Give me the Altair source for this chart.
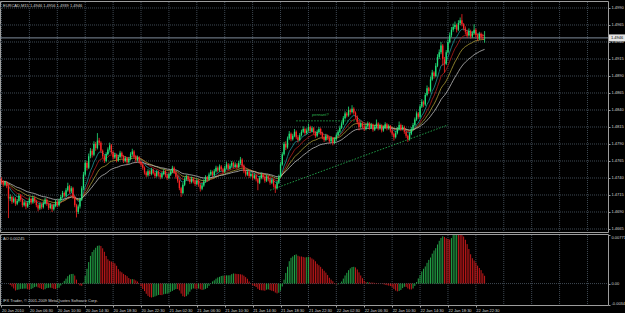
import altair as alt
import pandas as pd

# ---------------- data (EURCAD M15) ----------------
open_ = [
1.4738, 1.4735, 1.4730, 1.4733, 1.4728, 1.4710, 1.4712, 1.4705, 1.4710, 1.4702,
1.4706, 1.4714, 1.4708, 1.4700, 1.4704, 1.4698, 1.4703, 1.4709, 1.4704, 1.4711,
1.4706, 1.4700, 1.4695, 1.4701, 1.4697, 1.4703, 1.4708, 1.4702, 1.4696, 1.4700,
1.4694, 1.4699, 1.4705, 1.4700, 1.4707, 1.4712, 1.4718, 1.4714, 1.4722, 1.4728,
1.4720, 1.4725, 1.4712, 1.4700, 1.4690, 1.4698, 1.4708, 1.4725, 1.4745, 1.4762,
1.4755, 1.4772, 1.4780, 1.4774, 1.4790, 1.4784, 1.4795, 1.4792, 1.4780, 1.4772,
1.4765, 1.4775, 1.4782, 1.4788, 1.4778, 1.4770, 1.4774, 1.4766, 1.4771, 1.4777,
1.4772, 1.4765, 1.4769, 1.4763, 1.4768, 1.4775, 1.4779, 1.4772, 1.4766, 1.4770,
1.4764, 1.4760, 1.4755, 1.4748, 1.4744, 1.4750, 1.4746, 1.4752, 1.4747, 1.4743,
1.4749, 1.4745, 1.4741, 1.4746, 1.4750, 1.4744, 1.4740, 1.4745, 1.4749, 1.4755,
1.4748, 1.4742, 1.4736, 1.4725, 1.4718, 1.4730, 1.4738, 1.4742, 1.4738, 1.4734,
1.4739, 1.4735, 1.4731, 1.4736, 1.4730, 1.4724, 1.4729, 1.4735, 1.4741, 1.4738,
1.4745, 1.4749, 1.4744, 1.4750, 1.4755, 1.4751, 1.4757, 1.4753, 1.4749, 1.4755,
1.4760, 1.4754, 1.4758, 1.4762, 1.4757, 1.4760, 1.4756, 1.4762, 1.4767, 1.4758,
1.4750, 1.4745, 1.4749, 1.4743, 1.4746, 1.4740, 1.4744, 1.4738, 1.4733, 1.4740,
1.4745, 1.4741, 1.4736, 1.4742, 1.4738, 1.4733, 1.4737, 1.4729, 1.4725, 1.4733,
1.4742, 1.4760, 1.4775, 1.4790, 1.4785, 1.4798, 1.4805, 1.4797, 1.4802, 1.4808,
1.4800, 1.4796, 1.4803, 1.4808, 1.4812, 1.4806, 1.4810, 1.4815, 1.4809, 1.4813,
1.4807, 1.4802, 1.4808, 1.4812, 1.4806, 1.4800, 1.4796, 1.4802, 1.4799, 1.4794,
1.4798, 1.4792, 1.4797, 1.4803, 1.4808, 1.4814, 1.4820, 1.4828, 1.4835, 1.4832,
1.4840, 1.4837, 1.4842, 1.4836, 1.4830, 1.4822, 1.4815, 1.4820, 1.4816, 1.4812,
1.4816, 1.4820, 1.4814, 1.4818, 1.4811, 1.4815, 1.4820, 1.4813, 1.4817, 1.4810,
1.4814, 1.4819, 1.4813, 1.4816, 1.4810, 1.4805, 1.4800, 1.4806, 1.4812, 1.4818,
1.4812, 1.4815, 1.4808, 1.4802, 1.4797, 1.4805, 1.4812, 1.4818, 1.4826, 1.4835,
1.4830, 1.4845, 1.4852, 1.4848, 1.4862, 1.4872, 1.4868, 1.4885, 1.4895, 1.4890,
1.4905, 1.4918, 1.4925, 1.4935, 1.4915, 1.4908, 1.4925, 1.4940, 1.4950, 1.4958,
1.4962, 1.4965, 1.4958, 1.4968, 1.4972, 1.4966, 1.4960, 1.4955, 1.4950, 1.4956,
1.4948, 1.4953, 1.4958, 1.4950, 1.4945, 1.4952, 1.4947, 1.4946]

high = [
1.4741, 1.4737, 1.4736, 1.4735, 1.4731, 1.4716, 1.4714, 1.4713, 1.4712, 1.4709,
1.4717, 1.4716, 1.4710, 1.4707, 1.4706, 1.4706, 1.4712, 1.4711, 1.4714, 1.4713,
1.4708, 1.4702, 1.4704, 1.4703, 1.4706, 1.4711, 1.4710, 1.4704, 1.4703, 1.4702,
1.4702, 1.4708, 1.4707, 1.4710, 1.4715, 1.4721, 1.4720, 1.4725, 1.4733, 1.4730,
1.4728, 1.4727, 1.4714, 1.4702, 1.4701, 1.4711, 1.4728, 1.4749, 1.4766, 1.4765,
1.4776, 1.4784, 1.4783, 1.4794, 1.4793, 1.4806, 1.4799, 1.4794, 1.4782, 1.4774,
1.4778, 1.4785, 1.4792, 1.4790, 1.4780, 1.4777, 1.4776, 1.4774, 1.4780, 1.4779,
1.4774, 1.4772, 1.4771, 1.4771, 1.4778, 1.4783, 1.4781, 1.4774, 1.4773, 1.4772,
1.4766, 1.4762, 1.4757, 1.4750, 1.4753, 1.4752, 1.4755, 1.4754, 1.4749, 1.4752,
1.4751, 1.4747, 1.4749, 1.4753, 1.4752, 1.4746, 1.4748, 1.4752, 1.4758, 1.4757,
1.4750, 1.4744, 1.4738, 1.4727, 1.4733, 1.4741, 1.4745, 1.4744, 1.4740, 1.4742,
1.4741, 1.4737, 1.4739, 1.4738, 1.4732, 1.4732, 1.4738, 1.4744, 1.4743, 1.4748,
1.4752, 1.4751, 1.4753, 1.4758, 1.4757, 1.4760, 1.4759, 1.4755, 1.4758, 1.4764,
1.4762, 1.4761, 1.4765, 1.4764, 1.4763, 1.4762, 1.4765, 1.4771, 1.4769, 1.4760,
1.4752, 1.4752, 1.4751, 1.4749, 1.4748, 1.4747, 1.4746, 1.4740, 1.4743, 1.4748,
1.4747, 1.4743, 1.4745, 1.4744, 1.4740, 1.4740, 1.4739, 1.4731, 1.4736, 1.4745,
1.4763, 1.4778, 1.4793, 1.4794, 1.4801, 1.4809, 1.4807, 1.4805, 1.4812, 1.4810,
1.4803, 1.4806, 1.4811, 1.4816, 1.4814, 1.4813, 1.4820, 1.4817, 1.4816, 1.4815,
1.4809, 1.4811, 1.4815, 1.4814, 1.4808, 1.4802, 1.4805, 1.4804, 1.4801, 1.4801,
1.4800, 1.4800, 1.4806, 1.4811, 1.4817, 1.4823, 1.4831, 1.4838, 1.4837, 1.4845,
1.4842, 1.4847, 1.4844, 1.4838, 1.4832, 1.4824, 1.4823, 1.4822, 1.4818, 1.4819,
1.4823, 1.4822, 1.4821, 1.4820, 1.4818, 1.4826, 1.4822, 1.4820, 1.4819, 1.4817,
1.4822, 1.4821, 1.4819, 1.4818, 1.4812, 1.4807, 1.4809, 1.4815, 1.4823, 1.4820,
1.4818, 1.4817, 1.4810, 1.4804, 1.4808, 1.4815, 1.4821, 1.4829, 1.4838, 1.4837,
1.4848, 1.4856, 1.4854, 1.4865, 1.4876, 1.4874, 1.4889, 1.4899, 1.4897, 1.4909,
1.4922, 1.4929, 1.4940, 1.4937, 1.4918, 1.4928, 1.4944, 1.4954, 1.4962, 1.4967,
1.4970, 1.4967, 1.4972, 1.4976, 1.4981, 1.4968, 1.4963, 1.4958, 1.4960, 1.4958,
1.4956, 1.4966, 1.4960, 1.4952, 1.4955, 1.4954, 1.4952, 1.4956]

low = [
1.4731, 1.4727, 1.4728, 1.4725, 1.4681, 1.4706, 1.4702, 1.4703, 1.4699, 1.4700,
1.4704, 1.4705, 1.4697, 1.4698, 1.4694, 1.4696, 1.4701, 1.4701, 1.4702, 1.4703,
1.4697, 1.4691, 1.4693, 1.4694, 1.4695, 1.4701, 1.4699, 1.4693, 1.4694, 1.4690,
1.4692, 1.4697, 1.4697, 1.4698, 1.4705, 1.4710, 1.4711, 1.4712, 1.4720, 1.4717,
1.4718, 1.4709, 1.4697, 1.4682, 1.4687, 1.4695, 1.4706, 1.4722, 1.4743, 1.4751,
1.4753, 1.4769, 1.4770, 1.4772, 1.4780, 1.4782, 1.4788, 1.4777, 1.4769, 1.4762,
1.4763, 1.4773, 1.4780, 1.4775, 1.4767, 1.4768, 1.4763, 1.4764, 1.4769, 1.4769,
1.4762, 1.4763, 1.4760, 1.4761, 1.4766, 1.4773, 1.4769, 1.4763, 1.4764, 1.4761,
1.4757, 1.4752, 1.4745, 1.4741, 1.4742, 1.4743, 1.4744, 1.4745, 1.4740, 1.4741,
1.4742, 1.4738, 1.4739, 1.4744, 1.4741, 1.4737, 1.4738, 1.4743, 1.4747, 1.4746,
1.4739, 1.4733, 1.4722, 1.4712, 1.4716, 1.4728, 1.4736, 1.4735, 1.4731, 1.4732,
1.4732, 1.4728, 1.4729, 1.4727, 1.4720, 1.4722, 1.4727, 1.4733, 1.4735, 1.4736,
1.4743, 1.4741, 1.4742, 1.4748, 1.4748, 1.4749, 1.4750, 1.4746, 1.4747, 1.4753,
1.4751, 1.4752, 1.4756, 1.4754, 1.4755, 1.4753, 1.4754, 1.4760, 1.4755, 1.4747,
1.4742, 1.4743, 1.4740, 1.4741, 1.4737, 1.4738, 1.4735, 1.4722, 1.4731, 1.4738,
1.4738, 1.4733, 1.4734, 1.4735, 1.4730, 1.4731, 1.4726, 1.4718, 1.4723, 1.4731,
1.4740, 1.4758, 1.4773, 1.4781, 1.4783, 1.4796, 1.4794, 1.4795, 1.4800, 1.4797,
1.4792, 1.4794, 1.4801, 1.4806, 1.4803, 1.4804, 1.4808, 1.4806, 1.4807, 1.4804,
1.4799, 1.4800, 1.4806, 1.4803, 1.4797, 1.4793, 1.4794, 1.4796, 1.4791, 1.4792,
1.4788, 1.4790, 1.4795, 1.4801, 1.4806, 1.4812, 1.4818, 1.4826, 1.4829, 1.4830,
1.4833, 1.4835, 1.4833, 1.4827, 1.4819, 1.4810, 1.4813, 1.4813, 1.4809, 1.4810,
1.4814, 1.4811, 1.4812, 1.4808, 1.4809, 1.4813, 1.4810, 1.4811, 1.4807, 1.4808,
1.4812, 1.4810, 1.4811, 1.4807, 1.4802, 1.4795, 1.4798, 1.4804, 1.4810, 1.4809,
1.4810, 1.4805, 1.4799, 1.4793, 1.4795, 1.4803, 1.4810, 1.4816, 1.4824, 1.4827,
1.4828, 1.4843, 1.4844, 1.4846, 1.4860, 1.4864, 1.4866, 1.4883, 1.4886, 1.4888,
1.4903, 1.4915, 1.4922, 1.4905, 1.4895, 1.4906, 1.4923, 1.4938, 1.4947, 1.4955,
1.4959, 1.4954, 1.4956, 1.4965, 1.4963, 1.4957, 1.4951, 1.4946, 1.4948, 1.4945,
1.4946, 1.4951, 1.4947, 1.4942, 1.4943, 1.4944, 1.4943, 1.4939]

close = [
1.4735, 1.4730, 1.4733, 1.4728, 1.4710, 1.4712, 1.4705, 1.4710, 1.4702, 1.4706,
1.4714, 1.4708, 1.4700, 1.4704, 1.4698, 1.4703, 1.4709, 1.4704, 1.4711, 1.4706,
1.4700, 1.4695, 1.4701, 1.4697, 1.4703, 1.4708, 1.4702, 1.4696, 1.4700, 1.4694,
1.4699, 1.4705, 1.4700, 1.4707, 1.4712, 1.4718, 1.4714, 1.4722, 1.4728, 1.4720,
1.4725, 1.4712, 1.4700, 1.4690, 1.4698, 1.4708, 1.4725, 1.4745, 1.4762, 1.4755,
1.4772, 1.4780, 1.4774, 1.4790, 1.4784, 1.4795, 1.4792, 1.4780, 1.4772, 1.4765,
1.4775, 1.4782, 1.4788, 1.4778, 1.4770, 1.4774, 1.4766, 1.4771, 1.4777, 1.4772,
1.4765, 1.4769, 1.4763, 1.4768, 1.4775, 1.4779, 1.4772, 1.4766, 1.4770, 1.4764,
1.4760, 1.4755, 1.4748, 1.4744, 1.4750, 1.4746, 1.4752, 1.4747, 1.4743, 1.4749,
1.4745, 1.4741, 1.4746, 1.4750, 1.4744, 1.4740, 1.4745, 1.4749, 1.4755, 1.4748,
1.4742, 1.4736, 1.4725, 1.4718, 1.4730, 1.4738, 1.4742, 1.4738, 1.4734, 1.4739,
1.4735, 1.4731, 1.4736, 1.4730, 1.4724, 1.4729, 1.4735, 1.4741, 1.4738, 1.4745,
1.4749, 1.4744, 1.4750, 1.4755, 1.4751, 1.4757, 1.4753, 1.4749, 1.4755, 1.4760,
1.4754, 1.4758, 1.4762, 1.4757, 1.4760, 1.4756, 1.4762, 1.4767, 1.4758, 1.4750,
1.4745, 1.4749, 1.4743, 1.4746, 1.4740, 1.4744, 1.4738, 1.4733, 1.4740, 1.4745,
1.4741, 1.4736, 1.4742, 1.4738, 1.4733, 1.4737, 1.4729, 1.4725, 1.4733, 1.4742,
1.4760, 1.4775, 1.4790, 1.4785, 1.4798, 1.4805, 1.4797, 1.4802, 1.4808, 1.4800,
1.4796, 1.4803, 1.4808, 1.4812, 1.4806, 1.4810, 1.4815, 1.4809, 1.4813, 1.4807,
1.4802, 1.4808, 1.4812, 1.4806, 1.4800, 1.4796, 1.4802, 1.4799, 1.4794, 1.4798,
1.4792, 1.4797, 1.4803, 1.4808, 1.4814, 1.4820, 1.4828, 1.4835, 1.4832, 1.4840,
1.4837, 1.4842, 1.4836, 1.4830, 1.4822, 1.4815, 1.4820, 1.4816, 1.4812, 1.4816,
1.4820, 1.4814, 1.4818, 1.4811, 1.4815, 1.4820, 1.4813, 1.4817, 1.4810, 1.4814,
1.4819, 1.4813, 1.4816, 1.4810, 1.4805, 1.4800, 1.4806, 1.4812, 1.4818, 1.4812,
1.4815, 1.4808, 1.4802, 1.4797, 1.4805, 1.4812, 1.4818, 1.4826, 1.4835, 1.4830,
1.4845, 1.4852, 1.4848, 1.4862, 1.4872, 1.4868, 1.4885, 1.4895, 1.4890, 1.4905,
1.4918, 1.4925, 1.4935, 1.4915, 1.4908, 1.4925, 1.4940, 1.4950, 1.4958, 1.4962,
1.4965, 1.4958, 1.4968, 1.4972, 1.4966, 1.4960, 1.4955, 1.4950, 1.4956, 1.4948,
1.4953, 1.4958, 1.4950, 1.4945, 1.4952, 1.4947, 1.4946, 1.4946]

time_labels = ["20 Jan 2010", "20 Jan 06:30", "20 Jan 10:30", "20 Jan 14:30",
               "20 Jan 18:30", "20 Jan 22:30", "21 Jan 02:30", "21 Jan 06:30",
               "21 Jan 10:30", "21 Jan 14:30", "21 Jan 18:30", "21 Jan 22:30",
               "22 Jan 02:30", "22 Jan 06:30", "22 Jan 10:30", "22 Jan 14:30",
               "22 Jan 18:30", "22 Jan 22:30"]
label_bars = [0, 16, 32, 48, 64, 80, 96, 112, 128, 144, 160, 176, 192, 208,
              224, 240, 256, 272]
grid_bars = label_bars + [288, 304, 320, 336]
price_ticks = [1.4665, 1.4690, 1.4715, 1.4740, 1.4765, 1.4790, 1.4815,
               1.4840, 1.4865, 1.4890, 1.4915, 1.4940, 1.4965, 1.4990]
ao_ticks = [-0.0034, 0.0, 0.00771]
ao_tick_labels = ["-0.0034", "0.00", "0.00771"]
ma_periods = [8, 13, 21, 34]
ma_colors = ["#1b9696", "#b31d1a", "#a89a36", "#bdbdbd"]
trend_seg = ["trend", "trend", "pennant", "pennant"]
trend_bar = [154, 256, 169, 206]
trend_price = [1.4722, 1.4818, 1.4824, 1.4824]
note_bar = [178]
note_price = [1.4832]
note_text = ["pennant?"]
bid_price = 1.4946
header = "EURCAD,M15  1.4946 1.4956 1.4939 1.4946"
ao_title = "AO 0.00245"
copyright_text = "IFX Trader, \u00a9 2001-2009 MetaQuotes Software Corp."

# ---------------- styling ----------------
UP, DOWN = "#22e37a", "#ff2424"
AO_UP, AO_DN = "#23a046", "#c4191b"
GRID, FRAME, TXT = "#3e4852", "#9c9c9c", "#d6d6d6"
FONT = "Liberation Sans"
FS = 4

n = len(close)
bars = pd.DataFrame({"i": list(range(n)), "open": open_, "high": high,
                     "low": low, "close": close})


def ema(values, period):
    k = 2.0 / (period + 1)
    out = [values[0]]
    for v in values[1:]:
        out.append(k * v + (1 - k) * out[-1])
    return out


ma_rows = []
for p in ma_periods:
    for i, v in enumerate(ema(close, p)):
        ma_rows.append({"i": i, "val": v, "per": "EMA%d" % p})
ma_df = pd.DataFrame(ma_rows)

xscale = alt.Scale(domain=[-0.86, 347.77], range=[0, 608], nice=False, zero=False)
label_expr = "[" + ",".join("'%s'" % t for t in time_labels) + "][round(datum.value/16)]"
xaxis = alt.Axis(values=label_bars, labelExpr=label_expr, orient="bottom", offset=-8,
                 domain=False, grid=False, ticks=True, tickSize=2, tickColor=FRAME,
                 labelAlign="left", labelBaseline="top", labelPadding=1,
                 labelFontSize=FS, labelFont=FONT, labelColor=TXT,
                 labelFlush=False, labelOverlap=False, title=None)
pscale = alt.Scale(domain=[1.46591, 1.49988], range=[233, 2], nice=False, zero=False)
paxis = alt.Axis(values=price_ticks, format=".4f", orient="right", offset=-17,
                 domain=False, grid=False, tickSize=2, tickColor=FRAME, labelPadding=1,
                 labelFontSize=FS, labelFont=FONT, labelColor=TXT,
                 labelOverlap=False, title=None)
aoscale = alt.Scale(domain=[-0.0034, 0.00771], range=[305, 235], nice=False,
                    zero=False, clamp=True)
ao_expr = ("datum.value > 0.001 ? '%s' : (datum.value < -0.001 ? '%s' : '%s')"
           % (ao_tick_labels[2], ao_tick_labels[0], ao_tick_labels[1]))
aoaxis = alt.Axis(values=ao_ticks, labelExpr=ao_expr,
                  orient="right", offset=-17, domain=False, grid=False, tickSize=2,
                  tickColor=FRAME, labelPadding=1, labelFontSize=FS, labelFont=FONT,
                  labelColor=TXT, labelFlush=True, labelOverlap=False, title=None)


def X(f):
    return alt.X(f, type="quantitative", scale=xscale, axis=xaxis)


def P(f):
    return alt.Y(f, type="quantitative", scale=pscale, axis=paxis)


def A(f):
    return alt.Y(f, type="quantitative", scale=aoscale, axis=aoaxis)


one = alt.Data(values=[{"k": 1}])
candle_color = alt.condition("datum.close >= datum.open", alt.value(UP), alt.value(DOWN))

# ---------------- main (price) panel ----------------
frame_main = alt.Chart(one).mark_rect(fillOpacity=0, stroke=FRAME, strokeWidth=1).encode(
    x=alt.value(0.5), x2=alt.value(608.5), y=alt.value(1.5), y2=alt.value(232.5))
vgrid_main = alt.Chart(pd.DataFrame({"i": grid_bars})).mark_rule(
    color=GRID, strokeDash=[1, 1], strokeWidth=1).encode(
    x=X("i"), y=alt.value(2), y2=alt.value(232))
hgrid = alt.Chart(pd.DataFrame({"p": price_ticks})).mark_rule(
    color=GRID, strokeDash=[1, 1], strokeWidth=1).encode(
    y=P("p"), x=alt.value(0), x2=alt.value(608))
bid_line = alt.Chart(pd.DataFrame({"p": [bid_price]})).mark_rule(
    color="#7f8d9b", strokeWidth=1).encode(y=P("p"), x=alt.value(0), x2=alt.value(608))
trend = alt.Chart(pd.DataFrame({"seg": trend_seg, "i": trend_bar, "p": trend_price})).mark_line(
    color="#1f9a45", strokeDash=[1.5, 1.5], strokeWidth=1).encode(
    x=X("i"), y=P("p"), detail="seg:N")
mas = alt.Chart(ma_df).mark_line(strokeWidth=0.8).encode(
    x=X("i"), y=P("val"),
    color=alt.Color("per:N", scale=alt.Scale(domain=["EMA%d" % p for p in ma_periods],
                                             range=ma_colors), legend=None))
wicks = alt.Chart(bars).mark_rule(strokeWidth=0.8).encode(
    x=X("i"), y=P("low"), y2=alt.Y2("high"), color=candle_color)
bodies = alt.Chart(bars).transform_calculate(
    xl="datum.i - 0.38", xr="datum.i + 0.38",
    bot="min(datum.open, datum.close)",
    top="max(datum.open, datum.close) + (abs(datum.close - datum.open) < 0.00005 ? 0.00008 : 0)"
).mark_rect().encode(x=X("xl"), x2=alt.X2("xr"), y=P("bot"), y2=alt.Y2("top"),
                     color=candle_color)
note = alt.Chart(pd.DataFrame({"i": note_bar, "p": note_price, "t": note_text})).mark_text(
    align="left", baseline="middle", fontSize=FS, font=FONT, color="#2fb352").encode(
    x=X("i"), y=P("p"), text="t:N")
header_txt = alt.Chart(alt.Data(values=[{"t": header}])).mark_text(
    align="left", baseline="middle", fontSize=FS, font=FONT, color=TXT).encode(
    x=alt.value(3), y=alt.value(5.5), text="t:N")
bid_df = pd.DataFrame({"p": [bid_price], "t": ["%.4f" % bid_price]})
bid_box = alt.Chart(bid_df).mark_rule(color="#e4e4e4", strokeWidth=7).encode(
    y=P("p"), x=alt.value(609), x2=alt.value(625))
bid_txt = alt.Chart(bid_df).mark_text(
    align="left", baseline="middle", fontSize=FS, font=FONT, color="#000000").encode(
    x=alt.value(611), y=P("p"), text="t:N")

price_group = alt.layer(frame_main, vgrid_main, hgrid, bid_line, trend, mas, wicks,
                        bodies, note, header_txt, bid_box, bid_txt)

# ---------------- AO panel ----------------
frame_ao = alt.Chart(one).mark_rect(fillOpacity=0, stroke=FRAME, strokeWidth=1).encode(
    x=alt.value(0.5), x2=alt.value(608.5), y=alt.value(234.5), y2=alt.value(305.5))
vgrid_ao = alt.Chart(pd.DataFrame({"i": grid_bars})).mark_rule(
    color=GRID, strokeDash=[1, 1], strokeWidth=1).encode(
    x=X("i"), y=alt.value(235), y2=alt.value(305))
zero = alt.Chart(pd.DataFrame({"v": [0.0]})).mark_rule(
    color=GRID, strokeDash=[1, 1], strokeWidth=1).encode(
    y=A("v"), x=alt.value(0), x2=alt.value(608))
ao_bars = alt.Chart(bars).transform_calculate(
    med="(datum.high + datum.low) / 2"
).transform_window(
    fast="mean(med)", frame=[-4, 0], sort=[alt.SortField("i")]
).transform_window(
    slow="mean(med)", frame=[-33, 0], sort=[alt.SortField("i")]
).transform_calculate(
    ao="datum.fast - datum.slow"
).transform_window(
    prev="lag(ao)", sort=[alt.SortField("i")]
).transform_calculate(
    up="datum.prev == null || datum.ao >= datum.prev"
).mark_rule(strokeWidth=1).encode(
    x=X("i"), y=A("ao"), y2=alt.datum(0),
    color=alt.condition("datum.up", alt.value(AO_UP), alt.value(AO_DN)))
ao_txt = alt.Chart(alt.Data(values=[{"t": ao_title}])).mark_text(
    align="left", baseline="middle", fontSize=FS, font=FONT, color=TXT).encode(
    x=alt.value(3), y=alt.value(238.5), text="t:N")
copy_txt = alt.Chart(alt.Data(values=[{"t": copyright_text}])).mark_text(
    align="left", baseline="middle", fontSize=FS, font=FONT, color=TXT).encode(
    x=alt.value(3), y=alt.value(300.5), text="t:N")

ao_group = alt.layer(frame_ao, vgrid_ao, zero, ao_bars, ao_txt, copy_txt)

chart = alt.layer(price_group, ao_group).resolve_scale(y="independent").properties(
    width=625, height=313, background="#000000", padding=0,
    autosize=alt.AutoSizeParams(type="none")
).configure_view(strokeWidth=0)

chart.save("out.html", embed_options={"renderer": "svg", "actions": False})
